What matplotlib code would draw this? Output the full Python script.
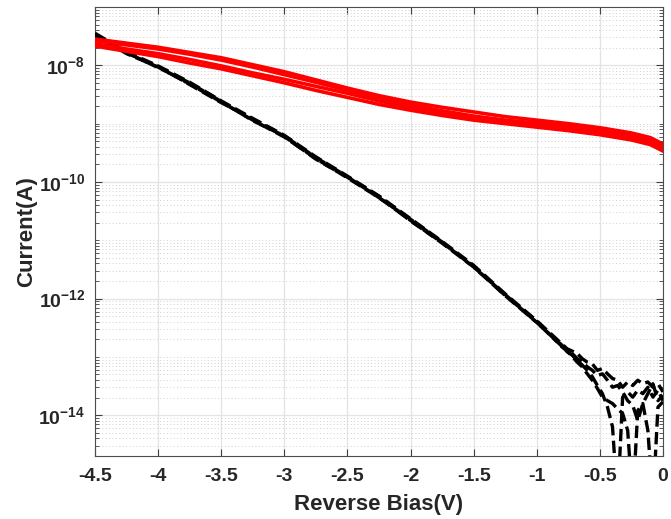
import numpy as np
import matplotlib
matplotlib.use("Agg")
import matplotlib.pyplot as plt
from matplotlib.ticker import FixedLocator, FuncFormatter, LogLocator, NullFormatter

# ---- data: reverse-bias I-V sweeps (log10 of current in A) ----
# Red sweeps (4 repeats)
red_bias = [-4.5, -4.25, -4.0, -3.75, -3.5, -3.25, -3.0, -2.75, -2.5, -2.25,
            -2.0, -1.75, -1.5, -1.25, -1.0, -0.75, -0.5, -0.25, -0.1, 0.0]
red_log_a = [-7.55, -7.62, -7.69, -7.78, -7.87, -7.99, -8.11, -8.25, -8.39, -8.52,
             -8.63, -8.72, -8.80, -8.88, -8.94, -9.00, -9.07, -9.16, -9.24, -9.35]
red_log_b = [-7.58, -7.65, -7.72, -7.81, -7.91, -8.03, -8.16, -8.29, -8.43, -8.56,
             -8.68, -8.78, -8.87, -8.94, -8.99, -9.04, -9.11, -9.20, -9.28, -9.39]
red_log_c = [-7.63, -7.72, -7.80, -7.90, -8.01, -8.13, -8.24, -8.36, -8.48, -8.61,
             -8.73, -8.83, -8.91, -8.97, -9.02, -9.08, -9.15, -9.24, -9.32, -9.43]
red_log_d = [-7.67, -7.76, -7.85, -7.96, -8.06, -8.18, -8.30, -8.43, -8.55, -8.67,
             -8.77, -8.86, -8.94, -9.00, -9.06, -9.12, -9.19, -9.28, -9.36, -9.47]

# Black sweeps (4 repeats): smooth high-bias part + noisy low-bias part
black_bias = [-4.5, -4.25, -4.0, -3.75, -3.5, -3.25, -3.0, -2.75, -2.5, -2.25,
              -2.0, -1.75, -1.5, -1.25, -1.0,
              -0.80, -0.76, -0.72, -0.68, -0.64, -0.60, -0.56, -0.52, -0.48, -0.44,
              -0.40, -0.36, -0.32, -0.28, -0.24, -0.20, -0.16, -0.12, -0.08, -0.04, 0.00]
black_log_1 = [-7.45, -7.77, -8.01, -8.29, -8.61, -8.91, -9.20, -9.57, -9.90, -10.24,
               -10.63, -11.02, -11.43, -11.92, -12.38,
               -12.78, -12.86, -12.90, -12.94, -13.03, -13.09, -13.12, -13.23, -13.20, -13.29,
               -13.37, -13.40, -13.52, -13.43, -13.49, -13.40, -13.46, -13.43, -13.52, -13.46, -13.60]
black_log_2 = [-7.48, -7.80, -8.03, -8.32, -8.63, -8.94, -9.23, -9.60, -9.93, -10.27,
               -10.66, -11.05, -11.46, -11.95, -12.41,
               -12.80, -12.89, -12.94, -13.03, -13.09, -13.17, -13.23, -13.32, -13.29, -13.40,
               -13.52, -13.49, -13.60, -13.75, -13.83, -14.09, -13.80, -13.63, -13.46, -13.75, -13.66]
black_log_3 = [-7.47, -7.78, -8.04, -8.30, -8.62, -8.95, -9.21, -9.58, -9.91, -10.27,
               -10.64, -11.03, -11.46, -11.93, -12.41,
               -12.82, -12.91, -12.97, -13.06, -13.14, -13.23, -13.34, -13.49, -13.63, -13.86,
               -14.20, -15.50, -13.69, -13.60, -13.69, -13.57, -13.63, -13.52, -13.69, -13.57, -13.75]
black_log_4 = [-7.49, -7.79, -8.02, -8.33, -8.64, -8.92, -9.22, -9.61, -9.92, -10.25,
               -10.67, -11.04, -11.44, -11.95, -12.39,
               -12.83, -12.90, -12.99, -13.09, -13.17, -13.29, -13.40, -13.54, -13.69, -13.75,
               -13.80, -13.89, -13.97, -14.26, -15.50, -13.92, -13.80, -14.26, -15.50, -13.86, -13.77]

x_ticks = [-4.5, -4.0, -3.5, -3.0, -2.5, -2.0, -1.5, -1.0, -0.5, 0.0]
x_tick_labels = ['-4.5', '-4', '-3.5', '-3', '-2.5', '-2', '-1.5', '-1', '-0.5', '0']
y_ticks = [1e-14, 1e-12, 1e-10, 1e-8]

# ---- style ----
plt.rcParams['font.family'] = ['Liberation Sans', 'DejaVu Sans']
plt.rcParams['font.weight'] = 'bold'
plt.rcParams['mathtext.fontset'] = 'custom'
plt.rcParams['mathtext.rm'] = 'Liberation Sans:bold'
plt.rcParams['mathtext.bf'] = 'Liberation Sans:bold'
plt.rcParams['mathtext.it'] = 'Liberation Sans:bold'
plt.rcParams['axes.unicode_minus'] = False

text_color = '#262626'

fig = plt.figure(figsize=(6.71, 5.19), dpi=100)
ax = fig.add_axes([0.1416, 0.1214, 0.8465, 0.8651])

black_sets = [black_log_1, black_log_2, black_log_3, black_log_4]
offsets = [0.0, 2.0, 4.0, 6.0]
for vals, off in zip(black_sets, offsets):
    ax.plot(black_bias, 10.0 ** np.asarray(vals), color='black', lw=2.4,
            linestyle=(off, (3.7, 1.6)), zorder=3)

for vals in [red_log_a, red_log_b, red_log_c, red_log_d]:
    ax.plot(red_bias, 10.0 ** np.asarray(vals), color='#ff0000', lw=2.6, zorder=4)

ax.set_yscale('log')
ax.set_xlim(-4.5, 0)
ax.set_ylim(2e-15, 1e-7)

ax.xaxis.set_major_locator(FixedLocator(x_ticks))
ax.set_xticklabels(x_tick_labels)
ax.yaxis.set_major_locator(FixedLocator(y_ticks))
ax.yaxis.set_major_formatter(FuncFormatter(
    lambda v, p: r'$\mathbf{10^{%d}}$' % int(round(np.log10(v)))))
ax.yaxis.set_minor_locator(LogLocator(base=10, subs=np.arange(1, 10), numticks=40))
ax.yaxis.set_minor_formatter(NullFormatter())

ax.tick_params(which='both', direction='in', top=True, right=True,
               color='#404040', labelcolor=text_color, labelsize=14)
ax.tick_params(which='major', length=5, width=0.8)
ax.tick_params(which='minor', length=3, width=0.6)
ax.tick_params(axis='x', pad=9)
ax.tick_params(axis='y', pad=7)

ax.set_axisbelow(True)
ax.grid(True, which='major', color='#e3e3e3', lw=0.9)
ax.grid(True, which='minor', axis='y', color='#d0d0d0', lw=0.7, linestyle=(0, (1, 2.5)))

for s in ax.spines.values():
    s.set_color('#4d4d4d')
    s.set_linewidth(0.8)

ax.set_xlabel('Reverse Bias(V)', fontsize=16, fontweight='bold', color=text_color, labelpad=6)
ax.set_ylabel('Current(A)', fontsize=16, fontweight='bold', color=text_color, labelpad=1)

fig.savefig('out.png', dpi=100)
